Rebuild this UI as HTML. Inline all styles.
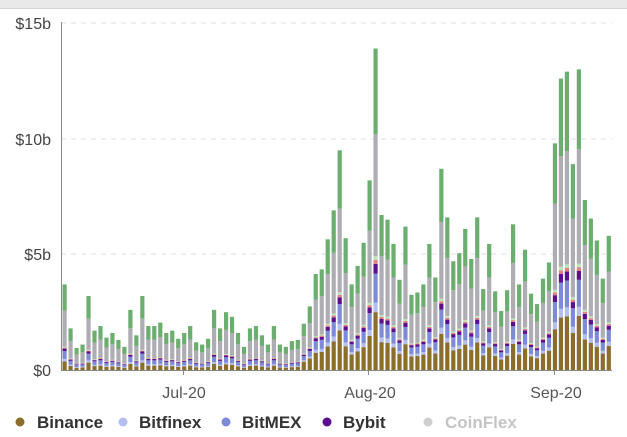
<!DOCTYPE html>
<html><head><meta charset="utf-8"><style>
html,body{margin:0;padding:0;background:#fff;width:627px;height:437px;overflow:hidden}
svg text{font-family:"Liberation Sans",sans-serif}
</style></head><body>
<svg id="s" width="627" height="437" xmlns="http://www.w3.org/2000/svg">
<rect x="0" y="0" width="627" height="8" fill="#e9e9e9"/>
<line x1="0" y1="8.5" x2="627" y2="8.5" stroke="#d4d4d4"/>
<g stroke="#ddd" stroke-dasharray="5,5">
<line x1="61" y1="23" x2="612" y2="23"/><line x1="61" y1="139" x2="612" y2="139"/><line x1="61" y1="254" x2="612" y2="254"/>
</g>
<g font-size="16" fill="#444" text-anchor="end">
<text x="51" y="29">$15b</text><text x="51" y="145">$10b</text><text x="51" y="260">$5b</text><text x="51" y="376">$0</text>
</g>
<g id="bars"></g>
<line x1="61.5" y1="22" x2="61.5" y2="371" stroke="#888"/>
<line x1="61" y1="370.5" x2="612" y2="370.5" stroke="#888"/>
<g stroke="#888"><line x1="183.5" y1="370" x2="183.5" y2="375"/><line x1="368.5" y1="370" x2="368.5" y2="375"/><line x1="554.5" y1="370" x2="554.5" y2="375"/></g>
<g font-size="16" fill="#555" text-anchor="middle">
<text x="184" y="398">Jul-20</text><text x="370" y="398">Aug-20</text><text x="556" y="398">Sep-20</text>
</g>
<g font-size="17" font-weight="bold">
<circle cx="20" cy="422" r="4.5" fill="#8b6d2c"/><text x="37" y="428" fill="#333">Binance</text>
<circle cx="123" cy="422" r="4.5" fill="#b4bff0"/><text x="139" y="428" fill="#333">Bitfinex</text>
<circle cx="226" cy="422" r="4.5" fill="#7d8ad6"/><text x="242" y="428" fill="#333">BitMEX</text>
<circle cx="327" cy="422" r="4.5" fill="#5b0f8f"/><text x="343" y="428" fill="#333">Bybit</text>
<circle cx="428" cy="422" r="4.5" fill="#cfcfcf"/><text x="445" y="428" fill="#c4c4c4">CoinFlex</text>
</g>
</svg>
<script>
var v=[3.7,1.8,0.95,1.1,3.2,1.7,1.9,1.4,1.6,1.3,1.0,2.6,1.5,3.2,1.9,1.9,2.05,1.6,1.7,1.35,1.6,1.9,
1.2,1.1,1.35,2.6,1.8,2.5,2.3,1.6,1.0,1.8,1.9,1.5,1.1,1.9,1.1,1.0,1.25,1.3,
2.0,2.75,4.15,4.35,5.65,6.9,9.5,5.7,3.7,4.5,5.5,8.2,13.9,6.7,6.5,5.45,3.9,6.2,3.25,3.35,3.7,5.45,4.0,8.7,6.6,4.7,5.05,6.1,4.8,6.6,3.5,5.45,3.4,2.55,3.45,6.3,3.7,5.2,3.3,2.85,3.95,4.65,9.8,12.6,12.9,8.9,13.0,7.35,6.55,5.6,3.95,5.8];
var cols=["#8b6d2c","#b4bff0","#7d8ad6","#5b0f8f","#e08080","#bfe3b8","#adadb3","#6cae6f"];
var out="",k=23.13;
for(var i=0;i<v.length;i++){var x=62.5+i*5.98,y=370,t=v[i];
 var f=[0.18,0.03,0.09,0.03,0.012,0.012,0.38];
 if(i<40){f[0]=0.1;f[6]=0.42}
 var s=0;for(var j=0;j<7;j++)s+=f[j];f.push(1-s);
 for(var j=0;j<8;j++){var h=t*f[j]*k;y-=h;out+='<rect x="'+x.toFixed(2)+'" y="'+y.toFixed(2)+'" width="4.2" height="'+h.toFixed(2)+'" fill="'+cols[j]+'"/>';}
}
document.getElementById("bars").innerHTML=out;
</script>
</body></html>
